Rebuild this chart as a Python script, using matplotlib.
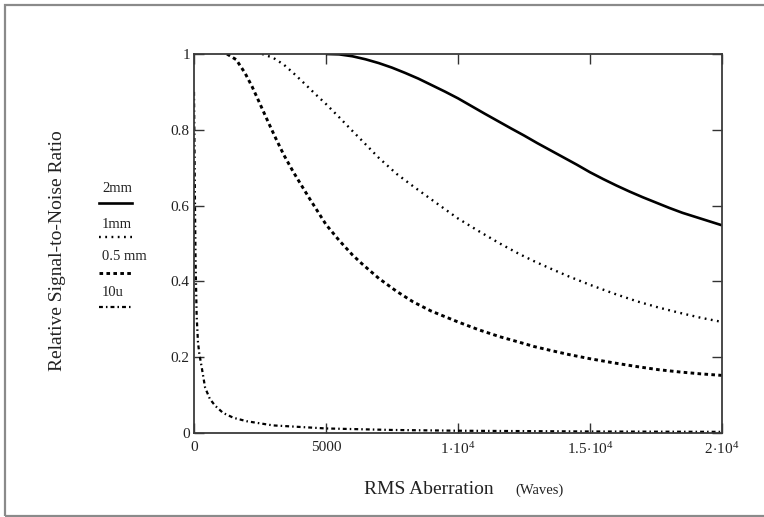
import matplotlib
matplotlib.use("Agg")
import matplotlib.pyplot as plt
from matplotlib.lines import Line2D
from matplotlib.patches import Rectangle
from matplotlib.ticker import FixedLocator, FixedFormatter

plt.rcParams['font.family'] = ['Liberation Serif', 'DejaVu Serif']
plt.rcParams['mathtext.fontset'] = 'custom'
plt.rcParams['mathtext.rm'] = 'Liberation Serif'
plt.rcParams['mathtext.it'] = 'Liberation Serif'
plt.rcParams['lines.scale_dashes'] = False

# ---- data ----
x_2mm = [5000, 5500, 6000, 6500, 7000, 7500, 8000, 8500, 9000, 9500, 10000, 10500, 11000, 11590,
         12000, 12500, 13000, 13500, 14000, 14500, 15000, 15500, 16000, 16500, 17000, 17500,
         18000, 18500, 19000, 19500, 20000]
y_2mm = [1.0, 0.999, 0.994, 0.986, 0.976, 0.964, 0.950, 0.935, 0.918, 0.901, 0.883, 0.863, 0.843, 0.820,
         0.804, 0.785, 0.765, 0.746, 0.727, 0.708, 0.688, 0.670, 0.653, 0.637, 0.622, 0.608,
         0.594, 0.581, 0.570, 0.559, 0.548]

x_1mm = [2580, 3000, 3400, 3760, 4200, 4600, 5000, 5500, 6000, 6370, 7000, 7670, 8300, 8975, 10000,
         10800, 11585, 12300, 12890, 13500, 14200, 15000, 15900, 16800, 17600, 18400, 19200, 20000]
y_1mm = [1.0, 0.99, 0.972, 0.950, 0.921, 0.894, 0.868, 0.833, 0.797, 0.771, 0.726, 0.684, 0.651, 0.617, 0.566,
         0.532, 0.500, 0.473, 0.453, 0.434, 0.413, 0.391, 0.368, 0.347, 0.331, 0.317, 0.304, 0.293]

x_05mm = [1250, 1600, 1930, 2200, 2450, 2800, 3100, 3400, 3760, 4100, 4400, 4700, 5000, 5500, 6000, 6370,
          7000, 7670, 8300, 8975, 10000, 10800, 11585, 12300, 12890, 13500, 14200, 15000, 15900, 16800,
          17600, 18400, 19200, 20000]
y_05mm = [1.0, 0.985, 0.950, 0.914, 0.876, 0.822, 0.777, 0.734, 0.689, 0.650, 0.616, 0.583, 0.550, 0.508, 0.470, 0.446,
          0.408, 0.374, 0.346, 0.322, 0.293, 0.272, 0.254, 0.240, 0.228, 0.218, 0.207, 0.196, 0.185, 0.175,
          0.167, 0.161, 0.156, 0.152]

x_10u = [0, 20, 40, 60, 100, 150, 200, 300, 420, 600, 800, 1100, 1500, 2000, 3000, 5000, 7500, 10000, 15000, 20000]
y_10u = [0.9, 0.75, 0.58, 0.45, 0.31, 0.24, 0.21, 0.17, 0.12, 0.09, 0.072, 0.053, 0.04, 0.031, 0.02, 0.012, 0.008, 0.006, 0.004, 0.003]

labels = ["2mm", "1mm", "0.5 mm", "10u"]

x_ticks = [0, 5000, 10000, 15000, 20000]
x_ticklabels = ["0", "5000", r"$1\!\cdot\!10^{4}$", r"$1.5\!\cdot\!10^{4}$", r"$2\!\cdot\!10^{4}$"]
y_ticks = [0, 0.2, 0.4, 0.6, 0.8, 1.0]
y_ticklabels = ["0", "0.2", "0.4", "0.6", "0.8", "1"]

# ---- figure ----
W, H = 764, 517
fig = plt.figure(figsize=(W / 100, H / 100), dpi=100)
fig.patch.set_facecolor('white')

# outer grey frame (open on the right)
fig.add_artist(Rectangle((5 / W, 1 / H), 1.2, (H - 6) / H, transform=fig.transFigure,
                         fill=False, edgecolor='#8a8a8a', linewidth=1.6))

ax = fig.add_axes([194 / W, (H - 433) / H, (722 - 194) / W, (433 - 54) / H])

txt = '#222222'
styles = [
    dict(color='black', lw=1.9, linestyle='-'),
    dict(color='black', lw=1.7, dashes=(1.3, 3.2)),
    dict(color='black', lw=2.1, dashes=(2.6, 2.4)),
    dict(color='black', lw=1.6, dashes=(2.8, 2.2, 1.1, 2.2)),
]
series = [(x_2mm, y_2mm), (x_1mm, y_1mm), (x_05mm, y_05mm), (x_10u, y_10u)]
for (xs, ys), st in zip(series, styles):
    ax.plot(xs, ys, solid_capstyle='butt', dash_capstyle='butt', solid_joinstyle='round', **st)

ax.set_xlim(0, 20000)
ax.set_ylim(0, 1)
ax.xaxis.set_major_locator(FixedLocator(x_ticks))
ax.xaxis.set_major_formatter(FixedFormatter(x_ticklabels))
ax.yaxis.set_major_locator(FixedLocator(y_ticks))
ax.yaxis.set_major_formatter(FixedFormatter(y_ticklabels))
ax.tick_params(direction='in', length=7, width=1.0, colors='#333333', labelcolor=txt,
               labelsize=11, top=True, right=True)
ax.tick_params(axis='x', pad=6)
ax.tick_params(axis='y', pad=3)
for sp in ax.spines.values():
    sp.set_color('#3a3a3a')
    sp.set_linewidth(1.3)

# axis labels
fig.text(57 / W, 1 - 251 / H, "Relative Signal-to-Noise Ratio", rotation=90,
         ha='center', va='center', fontsize=14, color=txt)
fig.text(429 / W, 1 - 490 / H, "RMS Aberration", ha='center', va='center',
         fontsize=14, color=txt)
fig.text(539 / W, 1 - 490 / H, "(Waves)", ha='center', va='center',
         fontsize=10.5, color=txt)

# legend (label above line sample)
leg_text_y = [189, 225, 257, 292]
leg_line_y = [203, 237, 273, 307]
for lab, st, ty, ly in zip(labels, styles, leg_text_y, leg_line_y):
    fig.text(102 / W, 1 - ty / H, lab, ha='left', va='center', fontsize=10.5, color=txt)
    fig.add_artist(Line2D([99 / W, 132 / W], [1 - ly / H, 1 - ly / H],
                          transform=fig.transFigure, dash_capstyle='butt', **st))

fig.savefig("out.png", dpi=100, facecolor='white')
